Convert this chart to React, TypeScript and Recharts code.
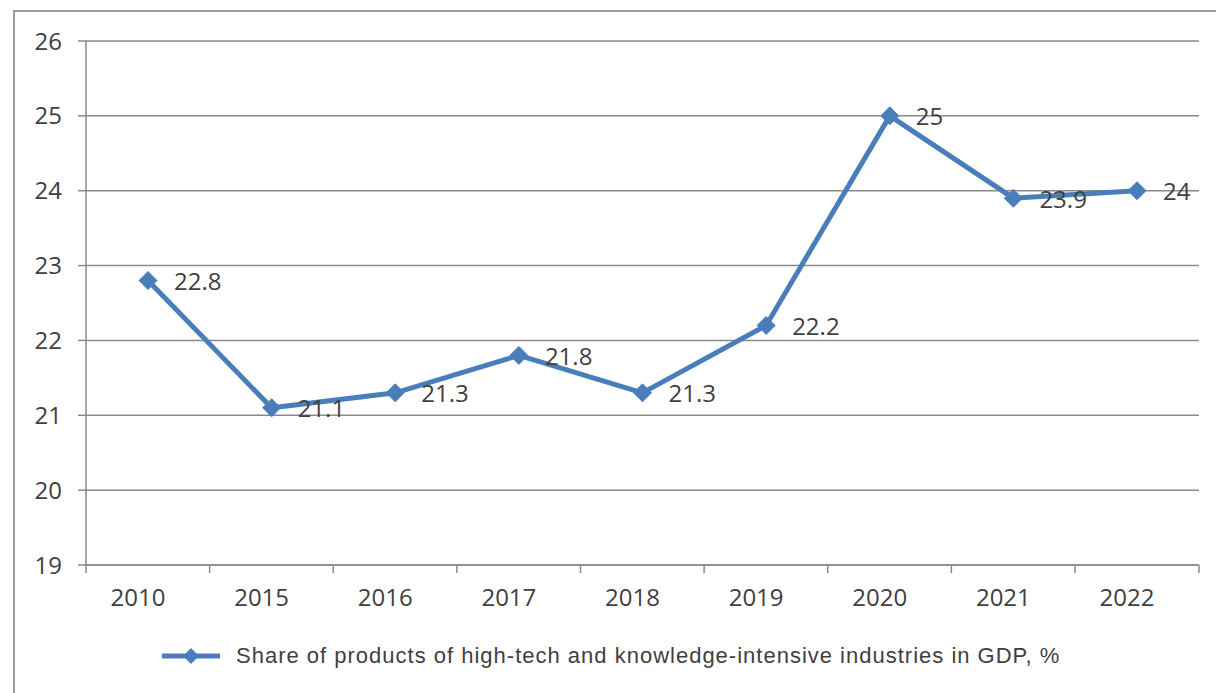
import React from 'react';
import { LineChart, Line, XAxis, YAxis, CartesianGrid, LabelList, Legend } from 'recharts';

const years = ['2010', '2015', '2016', '2017', '2018', '2019', '2020', '2021', '2022'];
const shareValues = [22.8, 21.1, 21.3, 21.8, 21.3, 22.2, 25, 23.9, 24];
const yTicks = [19, 20, 21, 22, 23, 24, 25, 26];

const SERIES_NAME = 'Share of products of high-tech and knowledge-intensive industries in GDP, %';
const BLUE = '#4a7ebb';
const AXIS = '#8a8a8a';
const TEXT = '#404040';
const FONT = '"Open Sans", "DejaVu Sans", sans-serif';
const HALF_BAND = 62;

const data = years.map((year, i) => ({ year, share: shareValues[i] }));

function Diamond(props: any) {
  const { cx, cy } = props;
  if (cx == null || cy == null) return null;
  const r = 9;
  return (
    <polygon
      points={`${cx},${cy - r} ${cx + r},${cy} ${cx},${cy + r} ${cx - r},${cy}`}
      fill={BLUE}
      stroke={BLUE}
    />
  );
}

// tick marks sit on the category boundaries, labels a bit left of centre
function XTick(props: any) {
  const { x, y, payload, index } = props;
  const last = index === years.length - 1;
  return (
    <g>
      <line x1={x - HALF_BAND} y1={y} x2={x - HALF_BAND} y2={y + 8} stroke={AXIS} strokeWidth={1.5} />
      {last && <line x1={x + HALF_BAND} y1={y} x2={x + HALF_BAND} y2={y + 8} stroke={AXIS} strokeWidth={1.5} />}
      <text x={x - 10} y={y + 41} textAnchor="middle" fontSize={24} fill={TEXT} fontFamily={FONT}>
        {payload.value}
      </text>
    </g>
  );
}

function ValueLabel(props: any) {
  const { x, y, value } = props;
  return (
    <text x={x + 26} y={y} dominantBaseline="central" fontSize={24} fill={TEXT} fontFamily={FONT}>
      {value}
    </text>
  );
}

function LegendContent() {
  return (
    <div style={{ display: 'flex', alignItems: 'center', paddingLeft: 162, paddingTop: 18 }}>
      <svg width={60} height={20} style={{ marginRight: 14 }}>
        <line x1={0} y1={10} x2={58} y2={10} stroke={BLUE} strokeWidth={5} />
        <polygon points="29,2 37,10 29,18 21,10" fill={BLUE} />
      </svg>
      <span
        style={{
          fontFamily: '"Liberation Sans", Arial, sans-serif',
          fontSize: 22,
          letterSpacing: 1,
          color: TEXT,
          whiteSpace: 'nowrap',
        }}
      >
        {SERIES_NAME}
      </span>
    </div>
  );
}

export default function App() {
  return (
    <div style={{ position: 'absolute', left: 0, top: 0, width: 1216, height: 693, background: '#fff', overflow: 'hidden' }}>
      <div
        style={{
          position: 'absolute',
          left: 13,
          top: 10,
          width: 1240,
          height: 720,
          border: '2px solid #9a9a9a',
          boxSizing: 'border-box',
        }}
      />
      <div style={{ position: 'absolute', left: 0, top: 0 }}>
        <LineChart width={1216} height={693} data={data} margin={{ top: 41, right: 17, left: 0, bottom: 0 }}>
          <CartesianGrid vertical={false} stroke={AXIS} strokeWidth={1.5} />
          <XAxis
            dataKey="year"
            height={60}
            stroke={AXIS}
            strokeWidth={1.5}
            padding={{ left: HALF_BAND, right: HALF_BAND }}
            tick={<XTick />}
            tickLine={false}
            tickSize={0}
            tickMargin={0}
            interval={0}
          />
          <YAxis
            width={86}
            domain={[19, 26]}
            ticks={yTicks}
            stroke={AXIS}
            strokeWidth={1.5}
            tickSize={8}
            tickMargin={16}
            tick={{ fontSize: 24, fill: TEXT, fontFamily: FONT }}
          />
          <Legend verticalAlign="bottom" content={<LegendContent />} wrapperStyle={{ height: 68 }} />
          <Line
            name={SERIES_NAME}
            dataKey="share"
            stroke={BLUE}
            strokeWidth={5}
            dot={<Diamond />}
            activeDot={false}
            isAnimationActive={false}
          >
            <LabelList dataKey="share" content={<ValueLabel />} />
          </Line>
        </LineChart>
      </div>
    </div>
  );
}
